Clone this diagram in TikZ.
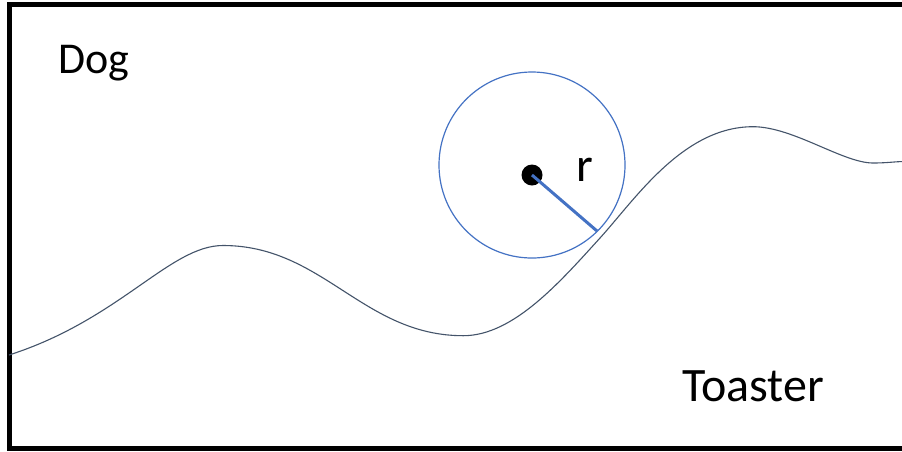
\documentclass[tikz,border=0pt]{standalone}
\usepackage{fontspec}
\setmainfont{Carlito}
\definecolor{cblue}{HTML}{4472C4}
\definecolor{cslate}{HTML}{44546A}
\tikzset{
  lbl/.style={font=\fontsize{48}{52}\selectfont, text=black, inner sep=0pt},
  frameline/.style={line width=5pt, black},
  hill/.style={cslate, line width=1.1pt},
}
\begin{document}
\begin{tikzpicture}[x=1pt,y=-1pt]
\useasboundingbox (0,0) rectangle (902,451);
\clip (0,0) rectangle (902,451);
\fill[white] (0,0) rectangle (902,451);
\draw[frameline] (910,4) -- (9.5,4) -- (9.5,448.5) -- (910,448.5);
\draw[hill] (9,355)
  .. controls (120,319.5) and (170,245.5) .. (223,245.5)
  .. controls (323,245.5) and (363,335.7) .. (463.3,335.7)
  .. controls (513.3,335.7) and (560,282) .. (600,238)
  .. controls (635,199.5) and (683,126.7) .. (753,126.7)
  .. controls (793,126.7) and (843,163) .. (873,163)
  .. controls (888,163) and (895,161.5) .. (905,161.5);
\draw[cblue, line width=1.2pt] (532,165) circle (93);
\coordinate (tan) at (597,231);
\node[circle, fill=black, minimum size=21pt, inner sep=0pt] (ctr) at (532,175) {};
\draw[cblue, line width=3pt] (ctr.center) -- (tan);
\node[lbl, anchor=base west] (r) at (576.5,181.7) {r};
\node[lbl, font=\fontsize{44}{48}\selectfont, anchor=base west] (dog) at (58,73) {Dog};
\node[lbl, anchor=base west] (toaster) at (682,401.7) {Toaster};
\end{tikzpicture}
\end{document}
